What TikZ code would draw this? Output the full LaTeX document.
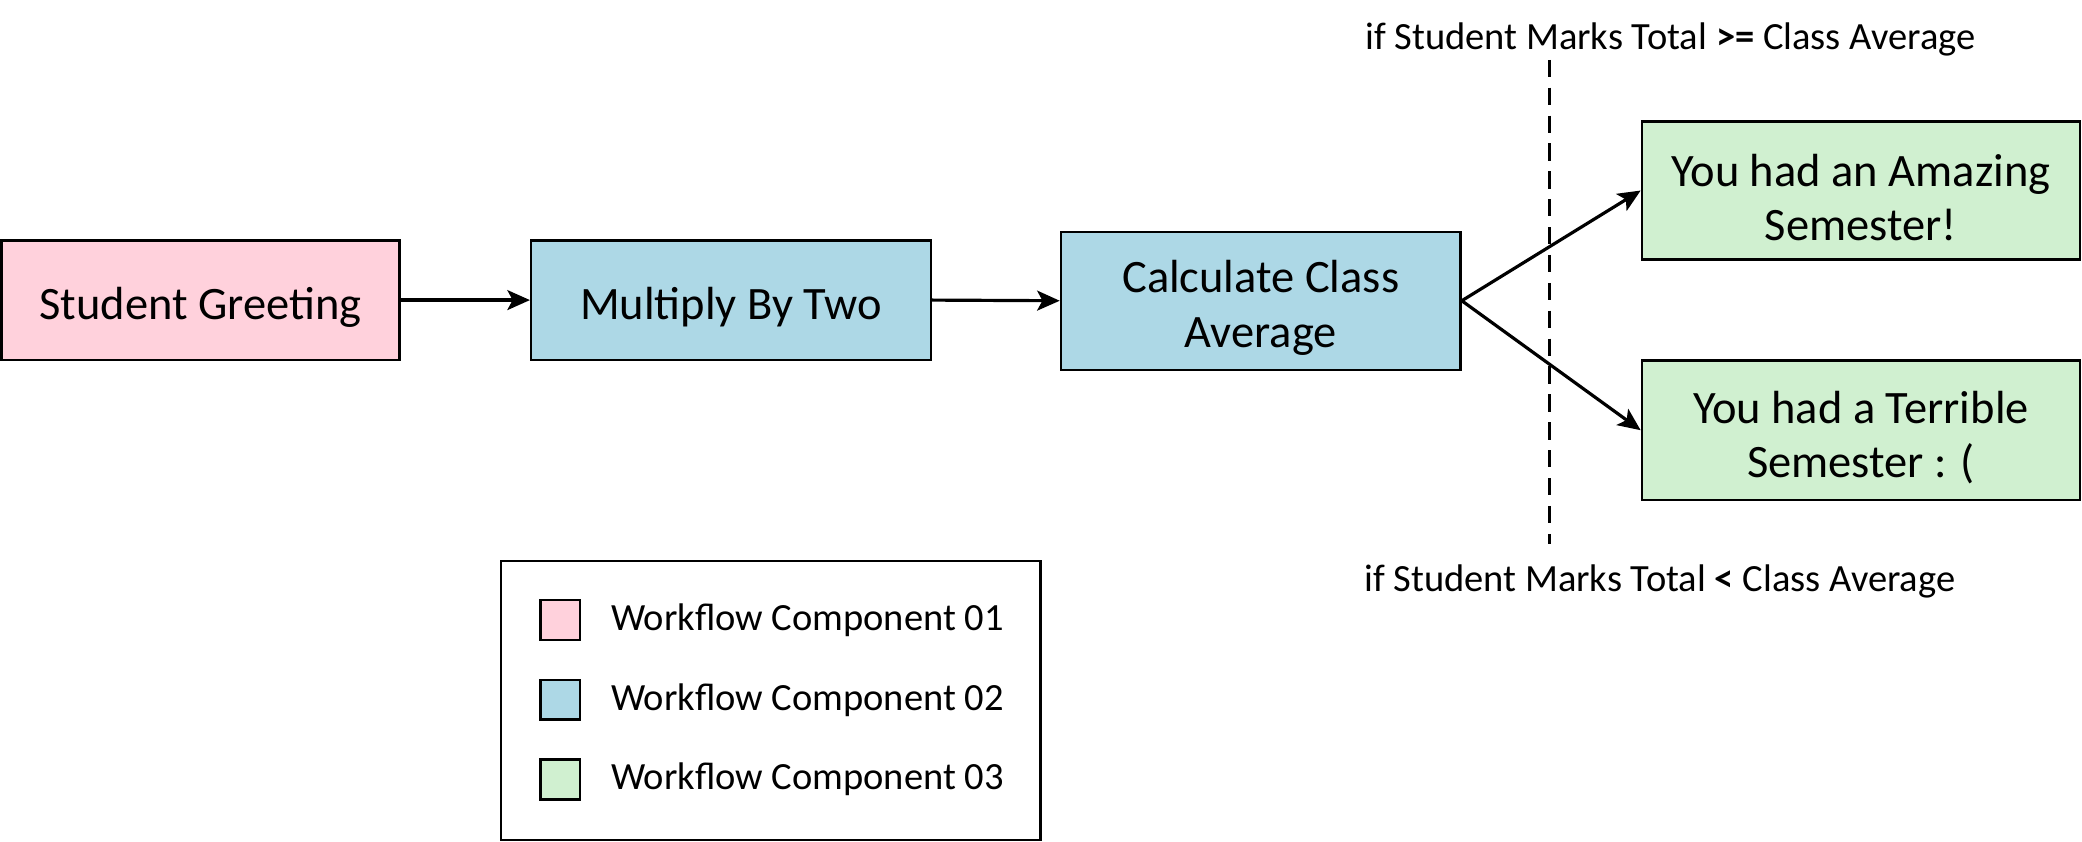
\documentclass[tikz,border=0pt]{standalone}
\usepackage{fontspec}
\setmainfont{Carlito}
\usetikzlibrary{arrows.meta}
\definecolor{cpink}{HTML}{FFD1DC}
\definecolor{cblue}{HTML}{ADD8E6}
\definecolor{cgreen}{HTML}{D0F0D0}
\newcommand{\lowstrut}{\rule{0pt}{35pt}}
\tikzset{
  box/.style={draw=black, line width=1.8pt, inner sep=0pt, align=center, font=\fontsize{35}{41}\selectfont},
  arr/.style={line width=2.4pt, -{Stealth[length=17pt,width=15pt,inset=4pt]}},
  swatch/.style={draw=black, line width=1.8pt, inner sep=0pt, minimum width=30pt, minimum height=30pt},
  legtext/.style={anchor=west, inner sep=0pt, font=\fontsize{29}{34}\selectfont},
  cond/.style={inner sep=0pt, font=\fontsize{29}{34}\selectfont},
  dashline/.style={line width=2.4pt, dash pattern=on 13pt off 8pt}
}
\begin{document}
\begin{tikzpicture}[x=1pt,y=-1pt]
\useasboundingbox (0,0) rectangle (1568,634);
\node[box, fill=cpink, minimum width=300pt, minimum height=90pt] (sg) at (151,226) {\lowstrut Student Greeting};
\node[box, fill=cblue, minimum width=301pt, minimum height=90pt] (mbt) at (550.5,226) {\lowstrut Multiply By Two};
\node[box, fill=cblue, minimum width=301pt, minimum height=104pt] (cca) at (949.5,226.5) {\lowstrut Calculate Class\\Average};
\node[box, fill=cgreen, minimum width=330pt, minimum height=104pt] (amz) at (1401.5,143.5) {\lowstrut You had an Amazing\\Semester!};
\node[box, fill=cgreen, minimum width=330pt, minimum height=105pt] (ter) at (1401.5,324) {\lowstrut You had a Terrible\\Semester : (};
\draw[arr] (sg.east) -- (mbt.west);
\draw[arr] (mbt.east) -- (cca.west);
\draw[arr] (cca.east) -- (amz.west);
\draw[arr] (cca.east) -- (ter.west);
\coordinate (dtop) at (1167,45);
\coordinate (dbot) at (1167,410);
\draw[dashline] (dtop) -- (dbot);
\node[cond] (ctop) at (1258,30) {if Student Marks Total \textbf{>=} Class Average};
\node[cond] (cbot) at (1250,438) {if Student Marks Total \textbf{<} Class Average};
\node[draw=black, line width=1.8pt, minimum width=406pt, minimum height=210pt, inner sep=0pt] (leg) at (580.5,527.5) {};
\node[swatch, fill=cpink] (s1) at (422,467) {};
\node[swatch, fill=cblue] (s2) at (422,527) {};
\node[swatch, fill=cgreen] (s3) at (422,587) {};
\node[legtext] (t1) at (460,467) {Workflow Component 01};
\node[legtext] (t2) at (460,527) {Workflow Component 02};
\node[legtext] (t3) at (460,587) {Workflow Component 03};
\end{tikzpicture}
\end{document}
